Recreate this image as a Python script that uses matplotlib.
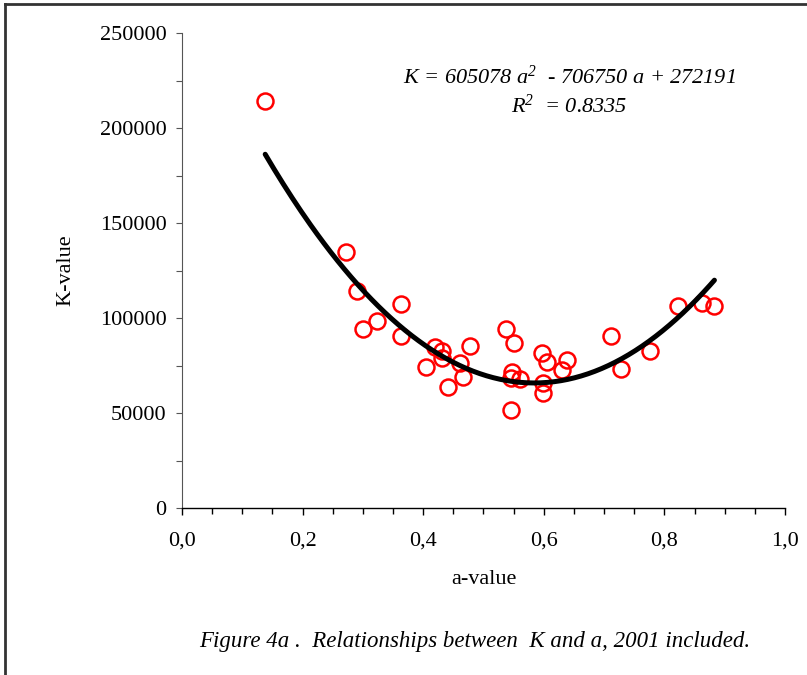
import numpy as np
import matplotlib.pyplot as plt
from matplotlib.lines import Line2D
from matplotlib.ticker import MultipleLocator, FuncFormatter

plt.rcParams["font.family"] = ["Liberation Serif", "DejaVu Serif"]
plt.rcParams["mathtext.fontset"] = "custom"
plt.rcParams["mathtext.rm"] = "Liberation Serif:italic"
plt.rcParams["mathtext.it"] = "Liberation Serif:italic"

# ── data ─────────────────────────────────────────────────────────────────────
a_values = [0.138, 0.272, 0.291, 0.301, 0.324, 0.364, 0.363, 0.404, 0.419,
            0.432, 0.432, 0.441, 0.461, 0.466, 0.477, 0.538, 0.551, 0.548,
            0.545, 0.561, 0.546, 0.597, 0.606, 0.639, 0.630, 0.599, 0.599,
            0.711, 0.728, 0.776, 0.822, 0.863, 0.883]
k_values = [214200, 134700, 114200, 94400, 98600, 107200, 90500, 74400, 84900,
            82800, 78800, 63500, 76200, 69100, 85300, 94200, 87000, 71700,
            68400, 67700, 51600, 81400, 77000, 77900, 72600, 65600, 60400,
            90500, 73000, 82600, 106300, 108000, 106300]

# trendline as printed on the chart: K = c2 a^2 + c1 a + c0
coef = [605078, -706750, 272191]
r_squared = 0.8335

x_ticks = [0.0, 0.2, 0.4, 0.6, 0.8, 1.0]
y_ticks = [0, 50000, 100000, 150000, 200000, 250000]

caption = "Figure 4a .  Relationships between  K and a, 2001 included."

FS = 16

# ── figure ───────────────────────────────────────────────────────────────────
fig = plt.figure(figsize=(8.07, 6.75), dpi=100)
ax = fig.add_axes([0.2255, 0.2474, 0.7472, 0.7037])

a_arr = np.array(a_values)
aa = np.linspace(a_arr.min(), a_arr.max(), 200)
kk = np.polyval(coef, aa)

ax.plot(a_values, k_values, linestyle="none", marker="o", markersize=11.5,
        markerfacecolor="none", markeredgecolor="#ff0000",
        markeredgewidth=1.8, zorder=2)
ax.plot(aa, kk, color="black", linewidth=3.6, solid_capstyle="round",
        zorder=3)

ax.set_xlim(0, 1.0)
ax.set_ylim(0, 250000)
ax.set_xticks(x_ticks)
ax.set_yticks(y_ticks)
ax.xaxis.set_minor_locator(MultipleLocator(0.05))
ax.yaxis.set_minor_locator(MultipleLocator(25000))
ax.xaxis.set_major_formatter(FuncFormatter(lambda v, p: f"{v:.1f}".replace(".", ",")))
ax.yaxis.set_major_formatter(FuncFormatter(lambda v, p: f"{int(v)}"))

for s in ["top", "right"]:
    ax.spines[s].set_visible(False)
ax.spines["bottom"].set_color("black")
ax.spines["bottom"].set_linewidth(1.0)
ax.spines["left"].set_color("#555555")
ax.spines["left"].set_linewidth(0.8)

ax.tick_params(axis="x", which="major", direction="out", length=5,
               width=1.0, labelsize=FS, pad=12)
ax.tick_params(axis="x", which="minor", direction="out", length=4, width=1.0)
ax.tick_params(axis="y", which="major", direction="out", length=4,
               width=0.8, color="#555555", labelsize=FS, pad=7)
ax.tick_params(axis="y", which="minor", direction="out", length=4,
               width=0.8, color="#555555")

ax.set_xlabel("a-value", fontsize=FS, labelpad=14)
ax.set_ylabel("K-value", fontsize=FS, labelpad=18)

eq = (f"K = {coef[0]} a$^{{2}}$  - {abs(coef[1])} a + {coef[2]}")
fig.text(0.706, 0.886, eq, fontsize=FS, style="italic",
         ha="center", va="center")
fig.text(0.705, 0.842, f"R$^{{2}}$  = {r_squared}", fontsize=FS,
         style="italic", ha="center", va="center")

fig.text(0.588, 0.050, caption, fontsize=16.5, style="italic",
         ha="center", va="center")

# frame lines at the top and left edge
fig.add_artist(Line2D([0.006, 0.006], [0.0, 0.994], transform=fig.transFigure,
                      color="#333333", linewidth=2.0))
fig.add_artist(Line2D([0.006, 1.0], [0.994, 0.994], transform=fig.transFigure,
                      color="#333333", linewidth=2.0))

fig.savefig("out.png", dpi=100)
